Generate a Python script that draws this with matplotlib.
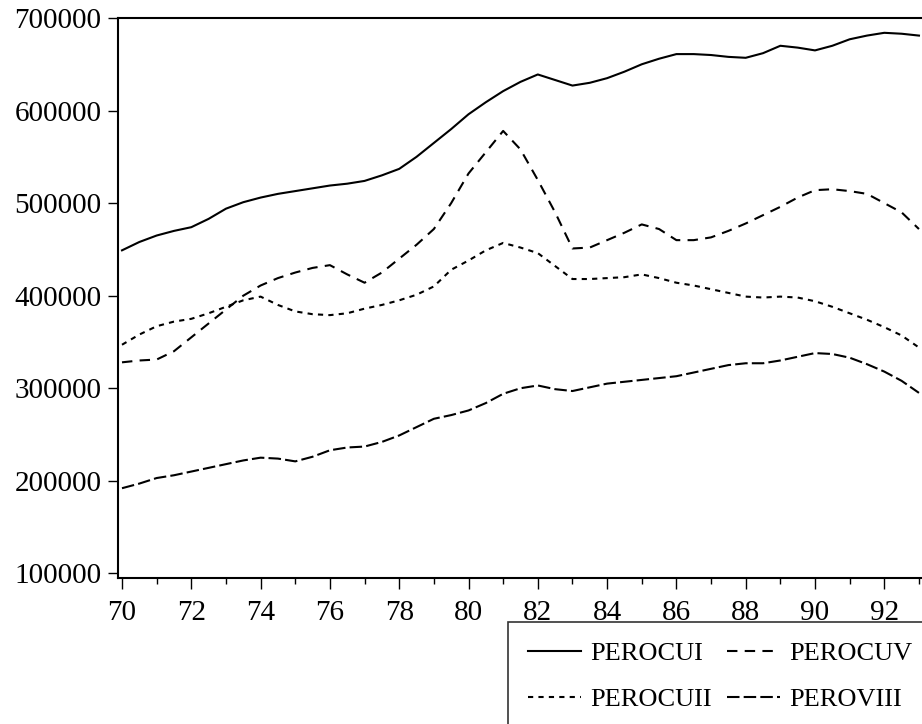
import matplotlib
matplotlib.use("Agg")
import matplotlib.pyplot as plt
from matplotlib.ticker import MultipleLocator, FixedLocator

years = [70 + 0.5 * i for i in range(47)]

perocui = [449, 458, 465, 470, 474, 483, 494, 501, 506, 510, 513, 516, 519, 521, 524, 530,
           537, 550, 565, 580, 596, 609, 621, 631, 639, 633, 627, 630, 635, 642, 650, 656,
           661, 661, 660, 658, 657, 662, 670, 668, 665, 670, 677, 681, 684, 683, 681]
perocuv = [328, 330, 331, 340, 355, 370, 385, 400, 411, 419, 425, 430, 433, 423, 414, 425,
           440, 455, 472, 500, 532, 555, 578, 558, 525, 490, 451, 452, 460, 468, 477, 472,
           460, 460, 463, 470, 478, 487, 496, 506, 514, 515, 513, 510, 500, 490, 472]
perocuii = [347, 358, 367, 372, 375, 381, 388, 395, 399, 390, 383, 380, 379, 381, 386, 390,
            395, 401, 410, 428, 438, 449, 457, 452, 446, 432, 418, 418, 419, 420, 423, 419,
            414, 411, 407, 403, 399, 398, 399, 398, 394, 388, 381, 374, 366, 357, 344]
peroviii = [192, 197, 203, 206, 210, 214, 218, 222, 225, 224, 221, 226, 233, 236, 237, 242,
            249, 258, 267, 271, 276, 284, 294, 300, 303, 299, 297, 301, 305, 307, 309, 311,
            313, 317, 321, 325, 327, 327, 330, 334, 338, 337, 333, 326, 318, 308, 295]

series_names = ["PEROCUI", "PEROCUV", "PEROCUII", "PEROVIII"]
ytick_vals = [100000, 200000, 300000, 400000, 500000, 600000, 700000]
xtick_major = [70, 72, 74, 76, 78, 80, 82, 84, 86, 88, 90, 92]
xtick_labels = ["70", "72", "74", "76", "78", "80", "82", "84", "86", "88", "90", "92"]

plt.rcParams['font.family'] = ['Liberation Serif', 'DejaVu Serif']

W, H = 922, 724
fig = plt.figure(figsize=(W / 100, H / 100), dpi=100)
left, right, top, bottom = 118, 922, 18, 578
ax = fig.add_axes([left / W, 1 - bottom / H, (right - left) / W, (bottom - top) / H])

k = 1000
styles = [
    dict(linestyle='-'),
    dict(linestyle=(0, (5, 3.5))),
    dict(linestyle=(0, (2.5, 2.5))),
    dict(linestyle=(0, (6, 2))),
]
data = [perocui, perocuv, perocuii, peroviii]
lines = []
for name, vals, st in zip(series_names, data, styles):
    ln, = ax.plot(years, [v * k for v in vals], color='black', lw=1.5, label=name, **st)
    lines.append(ln)

ax.set_xlim(70 - 4 / 34.65, 70 + (right - 122) / 34.65)
ax.set_ylim(95000, 700000)

ax.xaxis.set_major_locator(FixedLocator(xtick_major))
ax.set_xticklabels(xtick_labels)
ax.xaxis.set_minor_locator(MultipleLocator(1))
ax.yaxis.set_major_locator(FixedLocator(ytick_vals))
ax.set_yticklabels([str(v) for v in ytick_vals])

ax.tick_params(axis='x', which='major', direction='out', length=8, width=1, pad=8, labelsize=21)
ax.tick_params(axis='x', which='minor', direction='out', length=4, width=1)
ax.tick_params(axis='y', which='major', direction='out', length=7, width=1, pad=5, labelsize=21)
ax.tick_params(axis='y', which='minor', left=False)

for s in ['left', 'bottom', 'top']:
    ax.spines[s].set_linewidth(1.5)
    ax.spines[s].set_color('black')
ax.spines['right'].set_visible(False)

order = [0, 2, 1, 3]
leg = fig.legend([lines[i] for i in order], [series_names[i] for i in order],
                 loc='upper left', bbox_to_anchor=(508 / W, 1 - 622 / H),
                 bbox_transform=fig.transFigure, ncol=2, fontsize=19,
                 frameon=True, fancybox=False, edgecolor='black',
                 handlelength=2.0, handletextpad=0.35, columnspacing=0.6,
                 borderpad=0.75, labelspacing=0.85, borderaxespad=0)
leg.get_frame().set_linewidth(1.2)

fig.savefig("out.png", dpi=100)
